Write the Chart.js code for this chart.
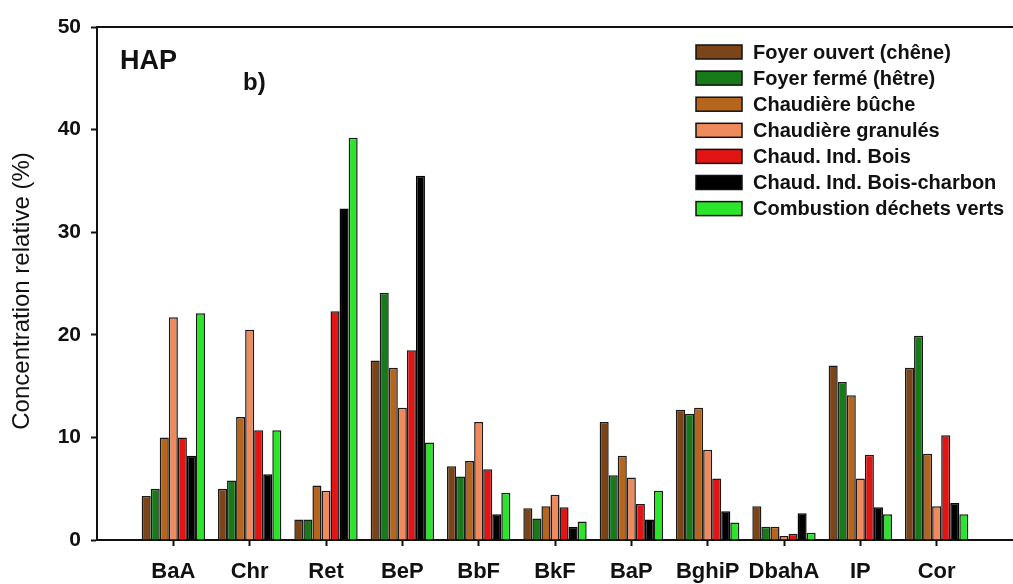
<!DOCTYPE html>
<html>
<head>
<meta charset="utf-8">
<script src="https://cdn.jsdelivr.net/npm/chart.js@4/dist/chart.umd.min.js"></script>
<style>
  html, body { margin: 0; padding: 0; background: #ffffff; }
  #c { display: block; }
</style>
</head>
<body>
<canvas id="c" width="1013" height="584"></canvas>
<script>
// ---- Data ----
const categories = ['BaA', 'Chr', 'Ret', 'BeP', 'BbF', 'BkF', 'BaP', 'BghiP', 'DbahA', 'IP', 'Cor'];
const seriesNames = [
  'Foyer ouvert (chêne)',
  'Foyer fermé (hêtre)',
  'Chaudière bûche',
  'Chaudière granulés',
  'Chaud. Ind. Bois',
  'Chaud. Ind. Bois-charbon',
  'Combustion déchets verts'
];
const foyerOuvert      = [4.3, 5.0, 2.0, 17.5, 7.2, 3.1, 11.5, 12.7, 3.3, 17.0, 16.8];
const foyerFerme       = [5.0, 5.8, 2.0, 24.1, 6.2, 2.1, 6.3, 12.3, 1.3, 15.4, 19.9];
const chaudiereBuche   = [10.0, 12.0, 5.3, 16.8, 7.7, 3.3, 8.2, 12.9, 1.3, 14.1, 8.4];
const chaudiereGranules= [21.7, 20.5, 4.8, 12.9, 11.5, 4.4, 6.1, 8.8, 0.4, 6.0, 3.3];
const chaudIndBois     = [10.0, 10.7, 22.3, 18.5, 6.9, 3.2, 3.5, 6.0, 0.6, 8.3, 10.2];
const chaudIndCharbon  = [8.2, 6.4, 32.3, 35.5, 2.5, 1.3, 2.0, 2.8, 2.6, 3.2, 3.6];
const dechetsVerts     = [22.1, 10.7, 39.2, 9.5, 4.6, 1.8, 4.8, 1.7, 0.7, 2.5, 2.5];
const yTicks = [0, 10, 20, 30, 40, 50];
const yTitle = 'Concentration relative (%)';

const seriesValues = [foyerOuvert, foyerFerme, chaudiereBuche, chaudiereGranules, chaudIndBois, chaudIndCharbon, dechetsVerts];
const seriesColors = ['#7b4419', '#187a18', '#b6651d', '#ee8a5c', '#e31414', '#000000', '#2be52b'];

// pad with an empty slot on both ends (axis extends one slot beyond the groups)
const xLabels = [''].concat(categories, ['']);

const datasets = seriesValues.map((vals, i) => ({
  label: seriesNames[i],
  data: [null].concat(vals, [null]),
  backgroundColor: seriesColors[i],
  borderColor: i === 5 ? '#000000' : '#1a1a1a',
  borderWidth: 1.5,
  borderSkipped: 'bottom',
  categoryPercentage: 0.83,
  barPercentage: 1.0
}));

const FONT = "'Liberation Sans', Arial, sans-serif";
const INK = '#111111';

const decorPlugin = {
  id: 'decor',
  afterDraw(chart) {
    const ctx = chart.ctx;
    const ca = chart.chartArea;
    ctx.save();
    // top frame line
    ctx.strokeStyle = INK;
    ctx.lineWidth = 2;
    ctx.beginPath();
    ctx.moveTo(ca.left, ca.top);
    ctx.lineTo(chart.width, ca.top);
    ctx.stroke();

    // y-axis title
    ctx.save();
    ctx.translate(22, 291);
    ctx.rotate(-Math.PI / 2);
    ctx.font = "24px " + FONT;
    ctx.fillStyle = INK;
    ctx.textAlign = 'center';
    ctx.textBaseline = 'middle';
    ctx.fillText(yTitle, 0, 0);
    ctx.restore();

    // panel texts
    ctx.fillStyle = INK;
    ctx.textBaseline = 'alphabetic';
    ctx.textAlign = 'left';
    ctx.font = "bold 27px " + FONT;
    ctx.fillText('HAP', 120, 69);
    ctx.font = "bold 24px " + FONT;
    ctx.fillText('b)', 243, 90);

    // legend
    const boxX = 696, boxW = 46, boxH = 14;
    const y0 = 52, dy = 26.1;
    ctx.font = "bold 20px " + FONT;
    ctx.textBaseline = 'middle';
    chart.data.datasets.forEach((ds, i) => {
      const cy = y0 + i * dy;
      ctx.fillStyle = ds.backgroundColor;
      ctx.fillRect(boxX, cy - boxH / 2, boxW, boxH);
      ctx.strokeStyle = '#111';
      ctx.lineWidth = 1.5;
      ctx.strokeRect(boxX, cy - boxH / 2, boxW, boxH);
      ctx.fillStyle = INK;
      ctx.fillText(ds.label, 753, cy + 1);
    });
    ctx.restore();
  }
};

new Chart(document.getElementById('c'), {
  type: 'bar',
  data: { labels: xLabels, datasets },
  plugins: [decorPlugin],
  options: {
    responsive: false,
    devicePixelRatio: 1,
    animation: false,
    layout: { padding: { top: 27, right: 0, bottom: 0, left: 0 } },
    plugins: {
      legend: { display: false },
      tooltip: { enabled: false }
    },
    scales: {
      x: {
        type: 'category',
        offset: false,
        grid: {
          offset: false,
          drawOnChartArea: false,
          drawTicks: true,
          tickLength: 6,
          tickWidth: 2,
          tickColor: (c) => (c.index === 0 || c.index === xLabels.length - 1) ? 'rgba(0,0,0,0)' : INK
        },
        border: { display: true, color: INK, width: 2 },
        ticks: {
          autoSkip: false,
          maxRotation: 0,
          minRotation: 0,
          color: INK,
          padding: 13,
          font: { family: FONT, size: 22, weight: 'bold' }
        },
        afterFit(s) { s.height = 44; s.paddingLeft = 0; s.paddingRight = 0; }
      },
      y: {
        min: 0,
        max: 50,
        afterBuildTicks(s) { s.ticks = yTicks.map(v => ({ value: v })); },
        grid: {
          drawOnChartArea: false,
          drawTicks: true,
          tickLength: 6,
          tickWidth: 2,
          tickColor: INK
        },
        border: { display: true, color: INK, width: 2 },
        ticks: {
          color: INK,
          padding: 10,
          font: { family: FONT, size: 21, weight: 'bold' }
        },
        title: { display: false },
        afterFit(s) { s.width = 97; }
      }
    }
  }
});
</script>
</body>
</html>
